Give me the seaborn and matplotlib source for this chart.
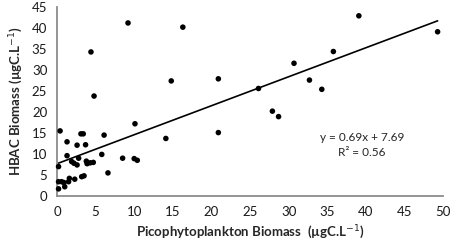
import numpy as np
import pandas as pd
import matplotlib
matplotlib.use("Agg")
import matplotlib.pyplot as plt
import seaborn as sns

# values
pico = [0.2, 1.0, 0.2, 0.6, 0.9, 1.5, 1.6, 2.3, 3.2, 3.5,
        0.2, 1.3, 1.9, 2.2, 2.8, 2.6, 3.8, 3.9, 4.3, 4.7,
        5.8, 6.6, 8.5, 10.0, 10.4, 0.4, 1.3, 2.6, 3.7, 3.1,
        3.4, 6.1, 10.1, 4.8, 4.4, 9.2, 14.1, 14.8, 16.3, 20.9,
        20.9, 26.1, 27.9, 28.7, 30.7, 32.7, 34.3, 35.8, 39.1, 49.3]
hbac = [1.7, 2.2, 3.4, 3.4, 3.2, 3.4, 4.2, 4.0, 4.6, 4.8,
        7.0, 9.6, 8.2, 7.8, 9.0, 7.4, 8.3, 7.7, 7.9, 8.0,
        9.9, 5.5, 9.0, 8.9, 8.5, 15.5, 12.9, 12.1, 12.2, 14.8,
        14.8, 14.5, 17.2, 23.8, 34.3, 41.2, 13.7, 27.4, 40.2, 27.9,
        15.1, 25.6, 20.2, 18.9, 31.6, 27.6, 25.4, 34.4, 42.9, 39.1]
slope = 0.69
intercept = 7.69
r2 = 0.56

df = pd.DataFrame({"pico": pico, "hbac": hbac})

sns.set_style("white")
plt.rcParams["font.family"] = ["Lato", "DejaVu Sans"]

fig = plt.figure(figsize=(4.54, 2.48), dpi=100)
ax = fig.add_axes([57 / 454, 52 / 248, 386 / 454, 189 / 248])

sns.scatterplot(data=df, x="pico", y="hbac", color="black", s=16,
                edgecolor="none", ax=ax, clip_on=False, zorder=3)

xs = np.array([min(pico), max(pico)])
ax.plot(xs, slope * xs + intercept, color="black", lw=1.2)

ax.set_xlim(0, 50)
ax.set_ylim(0, 45)
ax.set_xticks(range(0, 51, 5))
ax.set_yticks(range(0, 46, 5))
ax.tick_params(axis="both", length=0, labelsize=9.5, colors="#1a1a1a", pad=7)

for side in ["top", "right"]:
    ax.spines[side].set_visible(False)
for side in ["left", "bottom"]:
    ax.spines[side].set_color("#8c8c8c")
    ax.spines[side].set_linewidth(1.3)

ax.set_xlabel("Picophytoplankton Biomass  (µgC.L$^{-1}$)", fontsize=9.5,
              fontweight="bold", labelpad=4)
ax.set_ylabel("HBAC Biomass (µgC.L$^{-1}$)", fontsize=9.5,
              fontweight="bold", labelpad=5)

ax.text(39.5, 14.0, f"y = {slope}x + {intercept}", ha="center", va="center",
        fontsize=8.5)
ax.text(39.5, 10.4, f"R² = {r2}", ha="center", va="center", fontsize=8.5)

fig.savefig("out.png", dpi=100)
